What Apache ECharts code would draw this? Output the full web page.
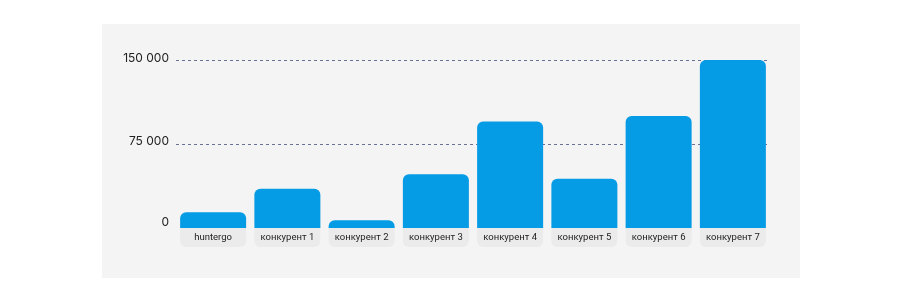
<!DOCTYPE html>
<html>
<head>
<meta charset="utf-8">
<script src="https://cdn.jsdelivr.net/npm/echarts@6/dist/echarts.min.js"></script>
<style>
html,body{margin:0;padding:0;background:#ffffff;}
#chart{width:900px;height:300px;}
</style>
</head>
<body>
<div id="chart"></div>
<script>
const categories = ['huntergo','конкурент 1','конкурент 2','конкурент 3','конкурент 4','конкурент 5','конкурент 6','конкурент 7'];
const values = [14000, 35000, 7000, 48000, 95000, 44000, 100000, 150000];
const yTicks = [0, 75000, 150000];

const chart = echarts.init(document.getElementById('chart'), null, {renderer:'canvas'});
chart.setOption({
  animation:false,
  backgroundColor:'#ffffff',
  graphic:[{
    type:'rect', z:-10, silent:true,
    shape:{x:102,y:24,width:698,height:254},
    style:{fill:'#f4f4f4'}
  }],
  grid:{left:176,right:130,top:60,bottom:72,containLabel:false},
  xAxis:{
    type:'category',
    data:categories,
    axisLine:{show:false},
    axisTick:{show:false},
    axisLabel:{
      margin:0,
      interval:0,
      color:'#222222',
      fontFamily:'Roboto',
      fontSize:9.5,
      backgroundColor:'#ebebeb',
      width:66,
      height:19,
      lineHeight:19,
      align:'center',
      verticalAlign:'top',
      borderRadius:[0,0,6,6]
    }
  },
  yAxis:{
    type:'value',
    min:yTicks[0],
    max:yTicks[2],
    interval:yTicks[1]-yTicks[0],
    axisLine:{show:false},
    axisTick:{show:false},
    axisLabel:{
      margin:7,
      color:'#222222',
      fontFamily:'Inter',
      fontSize:12,
      formatter:v=>{
        const s = String(v).replace(/\B(?=(\d{3})+(?!\d))/g,' ');
        const k = v===0 ? 'a' : (v===75000 ? 'b' : 'c');
        return '{'+k+'|'+s+'}';
      },
      rich:{
        a:{padding:[0,0,11,0]},
        b:{padding:[0,0,6,0]},
        c:{padding:[0,0,3,0]}
      }
    },
    splitLine:{
      show:true,
      showMinLine:false,
      lineStyle:{color:'#6b7394',type:[3,3],width:1}
    }
  },
  series:[{
    type:'bar',
    data:values,
    barWidth:66,
    itemStyle:{color:'#069be5',borderRadius:[6,6,0,0]}
  }]
});
</script>
</body>
</html>
